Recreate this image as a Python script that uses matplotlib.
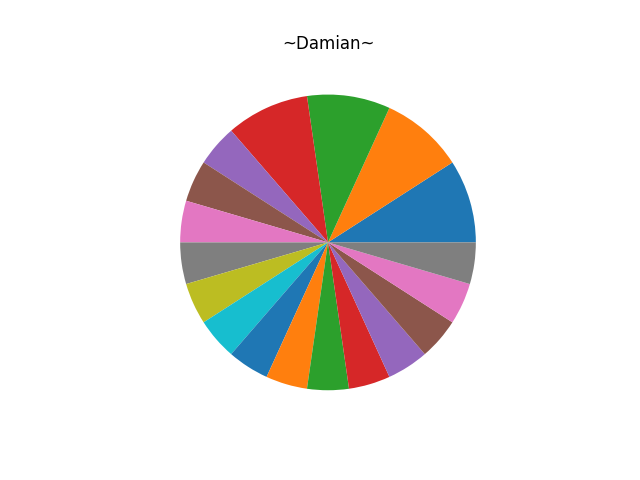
import matplotlib
matplotlib.use("Agg")
import matplotlib.pyplot as plt

# slice sizes: four wide slices, then fourteen narrow ones
sizes = [2, 2, 2, 2, 1, 1, 1, 1, 1, 1, 1, 1, 1, 1, 1, 1, 1, 1]

fig = plt.figure(figsize=(6.4, 4.8), dpi=100)
plt.pie(sizes)
plt.title("~Damian~")
plt.savefig("out.png")
